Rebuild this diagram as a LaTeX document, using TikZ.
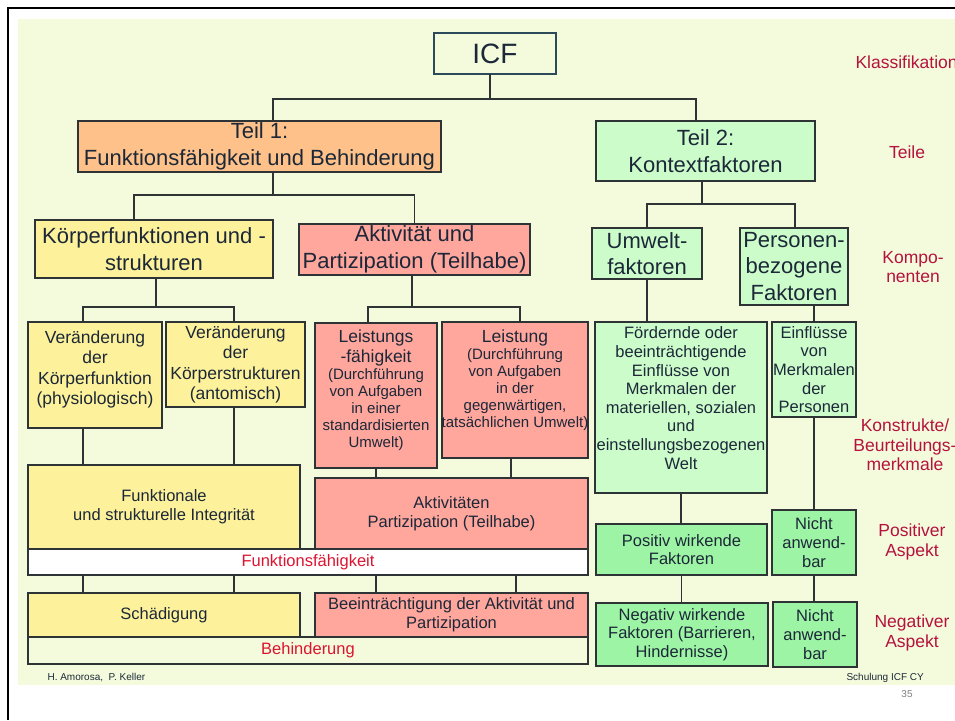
\documentclass[tikz,border=0pt]{standalone}
\usepackage{fontspec}
\setmainfont{Liberation Sans}
\usetikzlibrary{positioning, calc}
\usepackage{xcolor}
\definecolor{icfbg}{HTML}{F4FBDC}
\definecolor{icforange}{HTML}{FDC189}
\definecolor{icfyellow}{HTML}{FDF29B}
\definecolor{icfsalmon}{HTML}{FFA69D}
\definecolor{icfmint}{HTML}{CDFCCB}
\definecolor{icfgreen}{HTML}{9EF4A5}
\definecolor{icfline}{HTML}{2E3436}
\definecolor{icfslate}{HTML}{2C4A5A}
\definecolor{icftext}{HTML}{1C2838}
\definecolor{icfcrimson}{HTML}{B5123E}
\definecolor{icfred}{HTML}{DC1430}

\newcommand{\icfbig}{\fontsize{22}{26.5}\selectfont}
\newcommand{\icfmid}{\fontsize{17.5}{20.5}\selectfont}
\newcommand{\icfsmall}{\fontsize{16.5}{18.6}\selectfont}
\newcommand{\icftiny}{\fontsize{15}{17}\selectfont}
\newcommand{\icflabel}{\fontsize{17.5}{19.5}\selectfont}
\newcommand{\icffoot}{\fontsize{10}{12}\selectfont}
% text block pinned to the top of a box: height, width, text
\newcommand{\obentext}[3]{\parbox[c][#1][t]{#2}{\centering #3\par}}

\tikzset{
  icfbox/.style={draw=icfline, line width=1.2pt, inner sep=0pt, outer sep=0pt,
                 align=center, text=icftext},
  merkmal/.style={text=icfcrimson, align=center, font=\icflabel},
  conn/.style={draw=icfline, line width=1.2pt},
}

\begin{document}
\begin{tikzpicture}[x=1pt, y=-1pt]
  \useasboundingbox (0,0) rectangle (955,720);
  \fill[white] (0,0) rectangle (955,720);
  \fill[icfbg] (18,19) rectangle (955,685);
  \draw[black, line width=2.5pt] (8,720) -- (8,8) -- (955,8);

  % Klassifikation und Teile
  \node[icfbox, fill=icfbg, draw=icfslate, minimum width=122pt, minimum height=41pt,
        font=\fontsize{28}{30}\selectfont] (icf) at (495,53.5) {ICF};
  \node[icfbox, fill=icforange, minimum width=363pt, minimum height=51pt,
        font=\icfbig] (t1) at (259.5,146.5) {Teil 1:\\Funktionsfähigkeit und Behinderung};
  \node[icfbox, fill=icfmint, minimum width=219pt, minimum height=60pt,
        font=\icfbig] (t2) at (705.5,151) {Teil 2:\\Kontextfaktoren};

  % Komponenten
  \node[icfbox, fill=icfyellow, minimum width=238pt, minimum height=58pt,
        font=\icfbig] (kf) at (154,249) {Körperfunktionen und -\\strukturen};
  \node[icfbox, fill=icfsalmon, minimum width=231pt, minimum height=51pt,
        font=\icfbig] (ap) at (414.5,249.5) {Aktivität und\\Partizipation (Teilhabe)};
  \node[icfbox, fill=icfmint, minimum width=110pt, minimum height=51pt,
        font=\icfbig] (uw) at (647,253.5) {Umwelt-\\faktoren};
  \node[icfbox, fill=icfmint, minimum width=108pt, minimum height=77pt,
        font=\icfbig] (pf) at (794,266.5) {Personen-\\bezogene\\Faktoren};

  % Konstrukte
  \node[icfbox, fill=icfyellow, minimum width=134pt, minimum height=106pt,
        font=\icfmid] (vkf) at (95,375)
        {\obentext{89pt}{134pt}{Veränderung\\der\\Körperfunktion\\(physiologisch)}};
  \node[icfbox, fill=icfyellow, minimum width=139pt, minimum height=85pt,
        font=\icfmid] (vks) at (235.5,364.5)
        {Veränderung\\der\\Körperstrukturen\\(antomisch)};
  \node[icfbox, fill=icfsalmon, minimum width=122pt, minimum height=145pt,
        font=\icfmid] (lf) at (376,395.5)
        {\obentext{132pt}{122pt}{Leistungs\\-fähigkeit\par\icftiny (Durchführung\\von Aufgaben\\in einer\\standardisierten\\Umwelt)}};
  \node[icfbox, fill=icfsalmon, minimum width=146pt, minimum height=136pt,
        font=\icfmid] (lst) at (515,390)
        {\obentext{121pt}{146pt}{Leistung\par\icftiny (Durchführung\\von Aufgaben\\in der\\gegenwärtigen,\\\makebox[146pt]{tatsächlichen Umwelt)}}};
  \node[icfbox, fill=icfmint, minimum width=172pt, minimum height=171pt,
        font=\icfsmall] (fo) at (681,407.5)
        {\obentext{161pt}{172pt}{Fördernde oder\\beeinträchtigende\\Einflüsse von\\Merkmalen der\\materiellen, sozialen\\und\\einstellungsbezogenen\\Welt}};
  \node[icfbox, fill=icfmint, minimum width=84pt, minimum height=95pt,
        font=\icfsmall] (ei) at (814,369.5) {Einflüsse\\von\\Merkmalen\\der\\Personen};

  % positiver Aspekt
  \node[icfbox, fill=icfyellow, minimum width=272pt, minimum height=84pt,
        font=\icfsmall] (fi) at (164,507) {Funktionale\\und strukturelle Integrität};
  \node[icfbox, fill=icfsalmon, minimum width=273pt, minimum height=71pt,
        font=\icfsmall] (akt) at (451.5,513.5) {Aktivitäten\\Partizipation (Teilhabe)};
  \node[icfbox, fill=white, minimum width=560pt, minimum height=26pt,
        font=\icfsmall, text=icfred] (ff) at (308,562) {Funktionsfähigkeit};
  \node[icfbox, fill=icfgreen, minimum width=171pt, minimum height=51pt,
        font=\icfsmall] (pw) at (681.5,549.5) {Positiv wirkende\\Faktoren};
  \node[icfbox, fill=icfgreen, minimum width=84pt, minimum height=65pt,
        font=\icfsmall] (n1) at (814,542.5) {Nicht\\anwend-\\bar};

  % negativer Aspekt
  \node[icfbox, fill=icfyellow, minimum width=272pt, minimum height=44pt,
        font=\icfsmall] (sch) at (164,615) {Schädigung};
  \node[icfbox, fill=icfsalmon, minimum width=273pt, minimum height=44pt,
        font=\icfsmall] (be) at (451.5,615) {Beeinträchtigung der Aktivität und\\Partizipation};
  \node[icfbox, fill=icfbg, minimum width=560pt, minimum height=27pt,
        font=\icfsmall, text=icfred] (bh) at (308,650.5) {Behinderung};
  \node[icfbox, fill=icfgreen, minimum width=172pt, minimum height=63pt,
        font=\icfsmall] (nw) at (682,634.5) {Negativ wirkende\\Faktoren (Barrieren,\\Hindernisse)};
  \node[icfbox, fill=icfgreen, minimum width=84pt, minimum height=65pt,
        font=\icfsmall] (n2) at (815,634.5) {Nicht\\anwend-\\bar};

  % Verbindungen
  \draw[conn] ([xshift=-5pt]icf.south) -- ++(0,25) -| ([xshift=13.5pt]t1.north);
  \draw[conn] ([xshift=-5pt]icf.south) -- ++(0,25) -| ([xshift=-9.5pt]t2.north);
  \draw[conn] ([xshift=13.5pt]t1.south) -- ++(0,23) -| ([xshift=-20pt]kf.north);
  \draw[conn] ([xshift=13.5pt]t1.south) -- ++(0,23) -| (ap.north);
  \draw[conn] ([xshift=-3.5pt]t2.south) -- ++(0,23) -| (uw.north);
  \draw[conn] ([xshift=-3.5pt]t2.south) -- ++(0,23) -| ([xshift=1pt]pf.north);
  \draw[conn] ([xshift=2pt]kf.south) -- ++(0,29) -| ([xshift=-12pt]vkf.north);
  \draw[conn] ([xshift=2pt]kf.south) -- ++(0,29) -| ([xshift=-1.5pt]vks.north);
  \draw[conn] ([xshift=-2.5pt]ap.south) -- ++(0,32) -| ([xshift=-8pt]lf.north);
  \draw[conn] ([xshift=-2.5pt]ap.south) -- ++(0,32) -| ([xshift=5pt]lst.north);
  \draw[conn] (uw.south) -- (uw.south |- fo.north);
  \draw[conn] (ei.north |- pf.south) -- (ei.north);
  \draw[conn] ([xshift=-12pt]vkf.south) -- ([xshift=-12pt]vkf.south |- fi.north);
  \draw[conn] ([xshift=-1.5pt]vks.south) -- ([xshift=-1.5pt]vks.south |- fi.north);
  \draw[conn] (lf.south) -- (lf.south |- akt.north);
  \draw[conn] ([xshift=-4pt]lst.south) -- ([xshift=-4pt]lst.south |- akt.north);
  \draw[conn] (fo.south) -- (fo.south |- pw.north);
  \draw[conn] (ei.south) -- (n1.north);
  \draw[conn] (pw.south) -- (pw.south |- nw.north);
  \draw[conn] (n1.south) -- (n1.south |- n2.north);
  \foreach \dx/\unten in {-225/sch, -74/sch, 68/be, 208/be}
    \draw[conn] ([xshift=\dx pt]ff.south) -- ([xshift=\dx pt]ff.south |- \unten.north);

  % Ebenen
  \node[merkmal, anchor=west] (lklass) at (852,62) {Klassifikation};
  \node[merkmal] (lteile) at (907,152) {Teile};
  \node[merkmal] (lkomp) at (913,267) {Kompo-\\nenten};
  \node[merkmal] (lkonstr) at (905,445) {Konstrukte/\\Beurteilungs-\\merkmale};
  \node[merkmal] (lpos) at (912,542) {Positiver\\Aspekt};
  \node[merkmal] (lneg) at (912,633) {Negativer\\Aspekt};

  \node[anchor=west, font=\icffoot, text=icftext] (autoren) at (44,678) {H. Amorosa,\ \ P. Keller};
  \node[anchor=west, font=\icffoot, text=icftext] (schulung) at (843,678) {Schulung ICF CY};
  \node[font=\icffoot, text=gray] (seite) at (907,694) {35};
\end{tikzpicture}
\end{document}
